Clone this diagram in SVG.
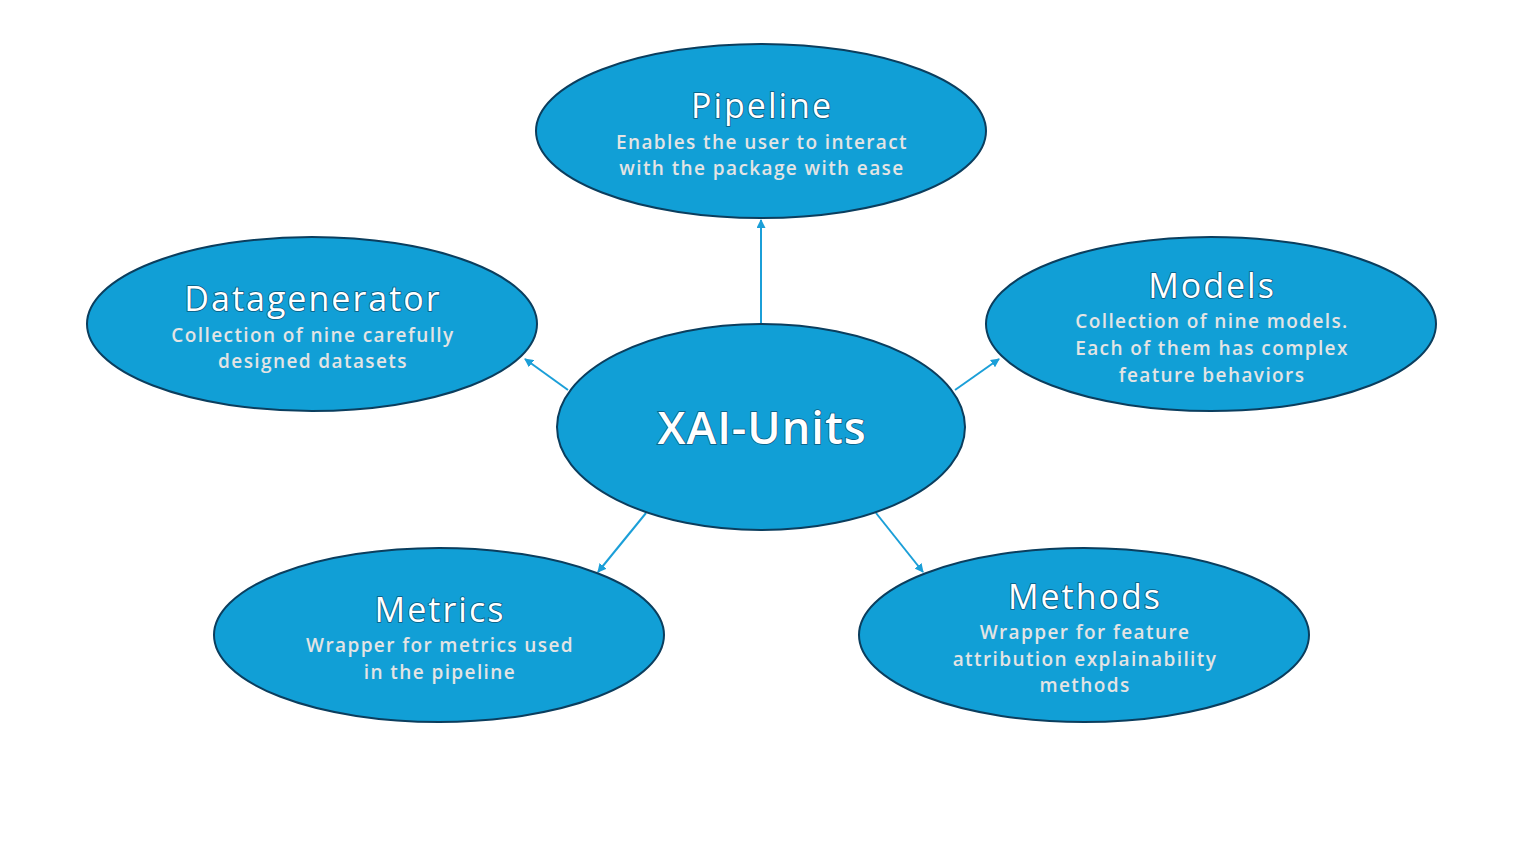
<svg xmlns="http://www.w3.org/2000/svg" width="1524" height="856" viewBox="0 0 1524 856">
<defs>
<marker id="arr" markerWidth="9" markerHeight="9" refX="8" refY="4.5" orient="auto" markerUnits="userSpaceOnUse">
<path d="M0,0 L9,4.5 L0,9 z" fill="#1b9fd8"/>
</marker>
<style>
.node{fill:#119fd6;stroke:#0b3e5e;stroke-width:2}
.title{font-family:"Open Sans","Noto Sans",sans-serif;font-size:34px;font-weight:500;fill:#ffffff;stroke:#0a5a80;stroke-width:1.6;paint-order:stroke;text-anchor:middle;letter-spacing:2px}
.sub{font-family:"Open Sans","Noto Sans",sans-serif;font-size:19px;font-weight:600;fill:#e4e4e4;text-anchor:middle;letter-spacing:1.4px}
.main{font-family:"Open Sans","Noto Sans",sans-serif;font-size:45px;font-weight:600;fill:#ffffff;stroke:#0a5a80;stroke-width:1.5;paint-order:stroke;text-anchor:middle;letter-spacing:1px}
.conn{stroke:#1b9fd8;stroke-width:2;fill:none;marker-end:url(#arr)}
</style>
</defs>
<rect width="1524" height="856" fill="#ffffff"/>
<g id="connectors">
<line class="conn" x1="761" y1="324" x2="761" y2="220"/>
<line class="conn" x1="568" y1="390" x2="525" y2="359"/>
<line class="conn" x1="955" y1="390" x2="999" y2="359"/>
<line class="conn" x1="646" y1="513" x2="598" y2="572"/>
<line class="conn" x1="876" y1="513" x2="923" y2="572"/>
</g>
<g id="pipeline">
<ellipse class="node" cx="761" cy="131" rx="225" ry="87"/>
<text class="title" x="762" y="118">Pipeline</text>
<text class="sub" x="762" y="149">Enables the user to interact</text>
<text class="sub" x="762" y="175">with the package with ease</text>
</g>
<g id="datagenerator">
<ellipse class="node" cx="312" cy="324" rx="225" ry="87"/>
<text class="title" x="313" y="311">Datagenerator</text>
<text class="sub" x="313" y="342">Collection of nine carefully</text>
<text class="sub" x="313" y="368">designed datasets</text>
</g>
<g id="models">
<ellipse class="node" cx="1211" cy="324" rx="225" ry="87"/>
<text class="title" x="1212" y="298">Models</text>
<text class="sub" x="1212" y="328">Collection of nine models.</text>
<text class="sub" x="1212" y="355">Each of them has complex</text>
<text class="sub" x="1212" y="382">feature behaviors</text>
</g>
<g id="xai-units">
<ellipse class="node" cx="761" cy="427" rx="204" ry="103"/>
<text class="main" x="762" y="444">XAI-Units</text>
</g>
<g id="metrics">
<ellipse class="node" cx="439" cy="635" rx="225" ry="87"/>
<text class="title" x="440" y="622">Metrics</text>
<text class="sub" x="440" y="652">Wrapper for metrics used</text>
<text class="sub" x="440" y="679">in the pipeline</text>
</g>
<g id="methods">
<ellipse class="node" cx="1084" cy="635" rx="225" ry="87"/>
<text class="title" x="1085" y="609">Methods</text>
<text class="sub" x="1085" y="639">Wrapper for feature</text>
<text class="sub" x="1085" y="666">attribution explainability</text>
<text class="sub" x="1085" y="692">methods</text>
</g>
</svg>
